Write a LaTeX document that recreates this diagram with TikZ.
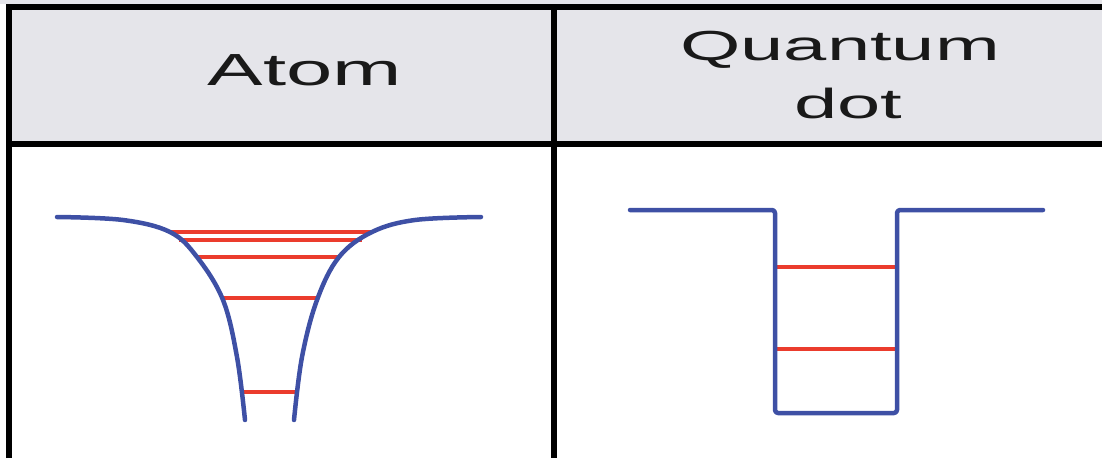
\documentclass[tikz,border=0pt]{standalone}
\usepackage{fontspec}
\setmainfont{Liberation Sans}
\definecolor{hdr}{RGB}{229,229,234}
\definecolor{wellblue}{RGB}{62,80,165}
\definecolor{levelred}{RGB}{235,60,45}
\definecolor{txt}{RGB}{25,25,25}
\begin{document}
\begin{tikzpicture}[x=1pt,y=-1pt,
  border/.style={line width=6pt,black},
  well/.style={line width=4.5pt,wellblue,line cap=round,line join=round},
  level/.style={line width=3.5pt,levelred},
  title/.style={inner sep=0pt,text=txt,xscale=1.85,anchor=base}]
\useasboundingbox (0,0) rectangle (1102,458);
\fill[hdr] (0,0) rectangle (1102,4);
\fill[hdr] (9,0) rectangle (1102,144);
\draw[border] (9,458) -- (9,7) -- (1102,7);
\draw[border] (9,144) -- (1102,144);
\draw[border] (554,7) -- (554,458);
% titles
\node[title,font=\fontsize{45}{52}\selectfont] (atomtitle) at (305,85) {Atom};
\node[title,font=\fontsize{42}{52}\selectfont] (qtitle) at (840,60) {Quantum};
\node[title,font=\fontsize{42}{52}\selectfont] (qtitle2) at (848,118) {dot};
% atom levels
\draw[level] (170,232) -- (372,232);
\draw[level] (179,240) -- (362,240);
\draw[level] (197,257) -- (339,257);
\draw[level] (222,298) -- (317,298);
\draw[level] (241,392) -- (297,392);
% atom potential
\draw[well] plot[smooth,tension=0.6] coordinates {(57,217) (123,220) (170,232) (197,257) (223,300) (237,357) (245,420)};
\draw[well] plot[smooth,tension=0.6] coordinates {(481,217) (415,220) (372,232) (339,257) (317,300) (302,357) (294,420)};
% quantum dot levels
\draw[level] (775,267) -- (897,267);
\draw[level] (775,349) -- (897,349);
% quantum dot well
\draw[well,rounded corners=3pt] (630,210) -- (775,210) -- (775,413) -- (897,413) -- (897,210) -- (1043,210);
\end{tikzpicture}
\end{document}
